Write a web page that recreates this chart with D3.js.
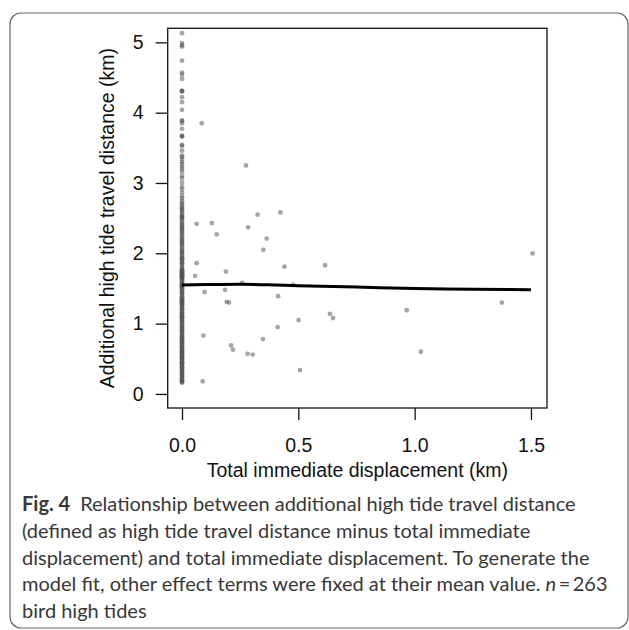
<!DOCTYPE html>
<html>
<head>
<meta charset="utf-8">
<script src="https://cdn.jsdelivr.net/npm/d3@7"></script>
<style>
    html, body { margin: 0; padding: 0; background: #fff; }
    svg { display: block; }
    .axis text { font-family: "Liberation Sans", Arial, sans-serif; font-size: 19.5px; fill: #111; }
    .axis line { stroke: #111; stroke-width: 1.3; }
    .label { font-family: "Liberation Sans", Arial, sans-serif; font-size: 19.5px; fill: #111; }
    .caption { font-family: Lato, "Open Sans", sans-serif; font-size: 20px; fill: #383838; }
</style>
</head>
<body>
<div id="chart"></div>
<script>
// values
// points sitting on x = 0 (no immediate displacement)
const zeroColumnY = [
    5.13, 4.99, 4.96, 4.94, 4.74, 4.57, 4.54, 4.48, 4.31, 4.30, 4.31, 4.22, 4.15, 4.04,
    3.89, 3.88, 3.85, 3.77, 3.67, 3.67, 3.66, 3.54, 3.53, 3.46, 3.39, 3.37, 3.34, 3.30,
    3.27, 3.23, 3.20, 3.16, 3.10, 3.07, 3.01, 2.95, 2.91, 2.86, 2.81, 2.78,
    2.74, 2.71, 2.69, 2.66, 2.64, 2.62, 2.60, 2.58, 2.55, 2.53, 2.51, 2.49, 2.47, 2.44,
    2.42, 2.40, 2.38, 2.35, 2.33, 2.31, 2.29, 2.27, 2.24, 2.22, 2.20, 2.18, 2.15, 2.13,
    2.11, 2.09, 2.06, 2.04, 2.01, 1.99, 1.97, 1.94, 1.92, 1.90, 1.88, 1.85, 1.83, 1.80,
    1.78, 1.76, 1.75, 1.74, 1.73, 1.72, 1.71, 1.70, 1.69, 1.68, 1.67, 1.66, 1.65, 1.63,
    1.61, 1.59, 1.57, 1.56, 1.55, 1.55, 1.54, 1.53, 1.51, 1.49, 1.47, 1.45, 1.43, 1.41,
    1.39, 1.37, 1.35, 1.34, 1.33, 1.32, 1.30, 1.29, 1.28, 1.26, 1.24, 1.22, 1.20, 1.18,
    1.16, 1.14, 1.12, 1.11, 1.10, 1.08, 1.06, 1.04, 1.02, 1.00, 0.98, 0.96, 0.94, 0.93,
    0.91, 0.89, 0.87, 0.85, 0.83, 0.81, 0.79, 0.78, 0.77, 0.75, 0.73, 0.71, 0.69, 0.68,
    0.67, 0.65, 0.63, 0.61, 0.60, 0.59, 0.57, 0.55, 0.53, 0.52, 0.51, 0.49, 0.47, 0.45,
    0.44, 0.43, 0.41, 0.39, 0.37, 0.35, 0.33, 0.31, 0.29, 0.27, 0.25, 0.23, 0.21, 0.19,
    0.17, 0.16,
    2.52, 2.36, 2.16, 2.02, 1.93, 1.86, 1.77, 1.74, 1.71, 1.68, 1.66, 1.60, 1.54, 1.50,
    1.44, 1.36, 1.31, 1.27, 1.21, 1.15, 1.09, 1.03, 0.97, 0.92, 0.88, 0.82, 0.76, 0.72,
    0.66, 0.62, 0.58, 0.54, 0.50, 0.46, 0.42, 0.38, 0.34, 0.30, 0.26, 0.22, 0.18
];

// points with some immediate displacement
const displacedX = [
    0.063, 0.128, 0.149, 0.284, 0.325, 0.423, 0.364, 0.350, 0.063, 0.056, 0.189, 0.440,
    0.615, 1.507, 0.259, 0.478, 0.097, 0.185, 0.192, 0.202, 0.413, 1.375, 0.966, 0.636,
    0.649, 0.501, 0.411, 0.092, 0.348, 0.211, 0.219, 0.282, 0.304, 1.027, 0.507, 0.089,
    0.085, 0.275
];
const displacedY = [
    2.42, 2.43, 2.27, 2.37, 2.55, 2.58, 2.21, 2.05, 1.86, 1.68, 1.74, 1.81,
    1.83, 2.00, 1.58, 1.55, 1.45, 1.48, 1.31, 1.30, 1.39, 1.30, 1.19, 1.14,
    1.08, 1.05, 0.95, 0.83, 0.78, 0.69, 0.63, 0.57, 0.56, 0.60, 0.34, 0.18,
    3.85, 3.25
];

// model fit
const fitX = [0, 0.1, 0.25, 0.4, 0.5, 0.75, 1.0, 1.25, 1.5];
const fitY = [1.55, 1.555, 1.56, 1.55, 1.54, 1.52, 1.50, 1.49, 1.48];

const xTicks = [0, 0.5, 1.0, 1.5];
const yTicks = [0, 1, 2, 3, 4, 5];
const xLabel = 'Total immediate displacement (km)';
const yLabel = 'Additional high tide travel distance (km)';
const captionBold = 'Fig. 4';
const captionLines = [
    'Relationship between additional high tide travel distance',
    '(defined as high tide travel distance minus total immediate',
    'displacement) and total immediate displacement. To generate the',
    'model fit, other effect terms were fixed at their mean value.',
    'bird high tides'
];

let svg;
let xScale;
let yScale;
const box = {left: 167.7, right: 547, top: 28.3, bottom: 408};

document.addEventListener('DOMContentLoaded', () => {
    init();
    drawChart();
    drawCaption();
});

const init = () => {
    svg = d3.select("#chart")
        .append("svg")
        .attr("width", 629)
        .attr("height", 630);

    // outer rounded frame of the figure
    svg.append("rect")
        .attr("x", 10)
        .attr("y", 13)
        .attr("width", 618)
        .attr("height", 615)
        .attr("rx", 11)
        .attr("fill", "none")
        .attr("stroke", "#666")
        .attr("stroke-width", 1.2);

    xScale = d3.scaleLinear().domain([-0.0615, 1.569]).range([box.left, box.right]);
    yScale = d3.scaleLinear().domain([-0.2, 5.2]).range([box.bottom, box.top]);
}

const drawChart = () => {
    const xAxis = d3.axisBottom(xScale)
        .tickValues(xTicks)
        .tickFormat(d3.format(".1f"))
        .tickSize(12)
        .tickSizeOuter(0)
        .tickPadding(18);
    svg.append("g")
        .attr("class", "axis xAxis")
        .attr("transform", "translate(0," + box.bottom + ")")
        .call(xAxis)
        .call(g => g.select(".domain").remove());

    const yAxis = d3.axisLeft(yScale)
        .tickValues(yTicks)
        .tickFormat(d3.format("d"))
        .tickSize(12)
        .tickSizeOuter(0)
        .tickPadding(12);
    svg.append("g")
        .attr("class", "axis yAxis")
        .attr("transform", "translate(" + box.left + ",0)")
        .call(yAxis)
        .call(g => g.select(".domain").remove());

    // points
    const points = zeroColumnY.map(v => ({x: 0, y: v}))
        .concat(displacedX.map((v, i) => ({x: v, y: displacedY[i]})));

    svg.selectAll(".pt")
        .data(points)
        .join("circle")
        .attr("class", "pt")
        .attr("cx", d => xScale(d.x))
        .attr("cy", d => yScale(d.y))
        .attr("r", 2.4)
        .attr("fill", "#555")
        .attr("fill-opacity", 0.52);

    // fitted line
    const line = d3.line()
        .x(d => xScale(d[0]))
        .y(d => yScale(d[1]))
        .curve(d3.curveMonotoneX);
    svg.append("path")
        .datum(fitX.map((v, i) => [v, fitY[i]]))
        .attr("d", line)
        .attr("fill", "none")
        .attr("stroke", "#000")
        .attr("stroke-width", 3);

    // plot box
    svg.append("rect")
        .attr("x", box.left)
        .attr("y", box.top)
        .attr("width", box.right - box.left)
        .attr("height", box.bottom - box.top)
        .attr("fill", "none")
        .attr("stroke", "#111")
        .attr("stroke-width", 1.3);

    svg.append("text")
        .attr("class", "label")
        .attr("text-anchor", "middle")
        .attr("x", (box.left + box.right) / 2)
        .attr("y", 477)
        .text(xLabel);

    svg.append("text")
        .attr("class", "label")
        .attr("text-anchor", "middle")
        .attr("transform", "translate(114," + (box.top + box.bottom) / 2 + ") rotate(-90)")
        .text(yLabel);
}

const drawCaption = () => {
    const baselines = [511, 538, 565, 591, 618];
    captionLines.forEach((txt, i) => {
        const t = svg.append("text")
            .attr("class", "caption")
            .attr("x", 22)
            .attr("y", baselines[i]);
        if (i === 0) {
            t.append("tspan").attr("font-weight", "bold").text(captionBold);
            t.append("tspan").attr("dx", 10).text(txt);
        } else {
            t.append("tspan").text(txt);
        }
        if (i === 3) {
            t.append("tspan").attr("font-style", "italic").attr("dx", 5).text("n");
            t.append("tspan").text("\u2009=\u2009263");
        }
    });
}
</script>
</body>
</html>
